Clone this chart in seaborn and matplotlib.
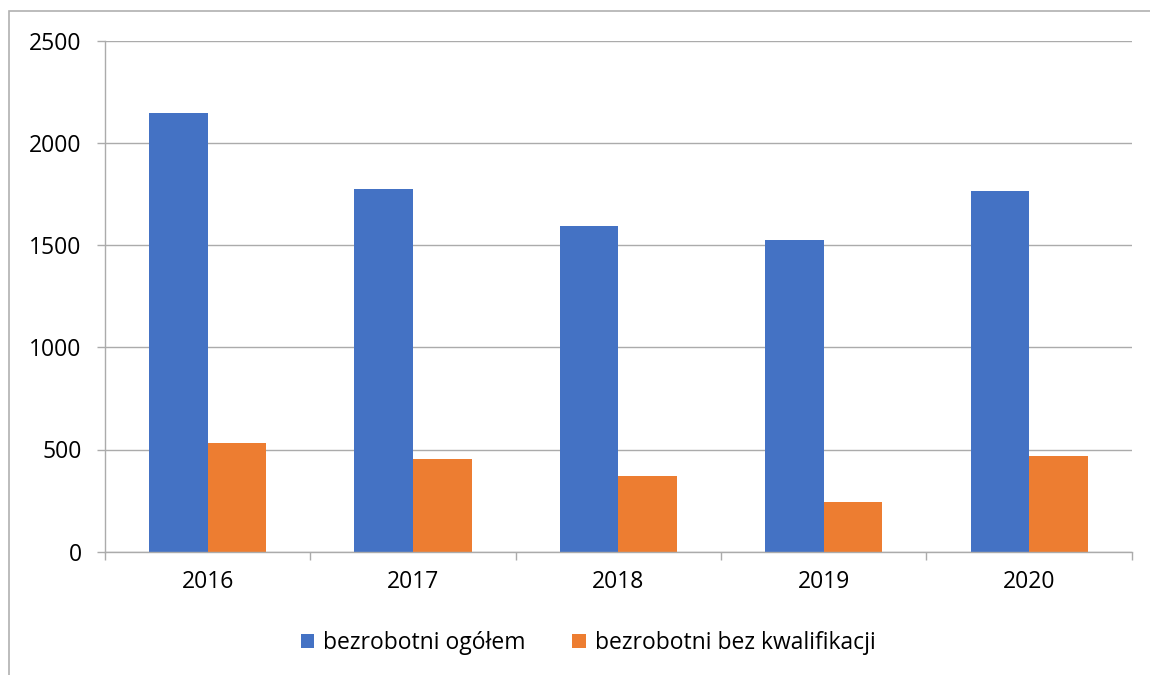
import matplotlib
matplotlib.use("Agg")
import matplotlib.pyplot as plt
import seaborn as sns
import pandas as pd
from matplotlib.patches import Patch, Rectangle

years = ["2016", "2017", "2018", "2019", "2020"]
ogolem = [2145, 1773, 1593, 1524, 1763]
bez_kwal = [530, 455, 370, 243, 468]
series_names = ["bezrobotni ogółem", "bezrobotni bez kwalifikacji"]
colors = ["#4472C4", "#ED7D31"]
yticks = [0, 500, 1000, 1500, 2000, 2500]

df = pd.DataFrame({
    "rok": years * 2,
    "wartosc": ogolem + bez_kwal,
    "seria": [series_names[0]] * len(years) + [series_names[1]] * len(years),
})

sns.set_theme(style="white")
plt.rcParams["font.family"] = ["Open Sans", "DejaVu Sans"]
plt.rcParams["text.color"] = "black"

W, H = 1150, 675
fig = plt.figure(figsize=(W / 100, H / 100), dpi=100)
ax = fig.add_axes([105 / W, 1 - 551.7 / H, (1131.7 - 105) / W, (551.7 - 40.7) / H])

sns.barplot(data=df, x="rok", y="wartosc", hue="seria", palette=colors,
            width=0.57, gap=0, ax=ax, legend=False, linewidth=0, saturation=1)

grid_c = "#ABABAB"
ax.set_ylim(0, 2500)
ax.set_xlim(-0.5, len(years) - 0.5)
ax.set_yticks(yticks)
ax.set_yticklabels([str(v) for v in yticks])
ax.yaxis.grid(True, color=grid_c, linewidth=1.0)
ax.set_axisbelow(True)
ax.set_xlabel("")
ax.set_ylabel("")

for s in ["top", "right"]:
    ax.spines[s].set_visible(False)
for s in ["left", "bottom"]:
    ax.spines[s].set_color(grid_c)
    ax.spines[s].set_linewidth(1.0)

fs = 16.5
ax.tick_params(axis="y", which="major", left=True, length=5.8, width=1.0,
               color=grid_c, pad=11, labelsize=fs, labelcolor="black")
ax.tick_params(axis="x", which="major", bottom=False, length=0, pad=13,
               labelsize=fs, labelcolor="black")
ax.set_xticks([i - 0.5 for i in range(len(years) + 1)], minor=True)
ax.tick_params(axis="x", which="minor", bottom=True, length=5.8, width=1.0,
               color=grid_c)

handles = [Patch(facecolor=c, edgecolor="none") for c in colors]
fig.legend(handles, series_names, loc="center", bbox_to_anchor=(588 / W, 1 - 643 / H),
           ncol=2, frameon=False, fontsize=fs, handlelength=0.6, handleheight=0.6,
           handletextpad=0.4, columnspacing=2.0, labelcolor="black")

# outer chart frame (partially visible, as in the reference)
fig.patches.append(Rectangle((9 / W, -0.05), 1.1, 1 - 11 / H + 0.05,
                             transform=fig.transFigure, fill=False,
                             edgecolor="#B0B0B0", linewidth=1.2))

fig.savefig("out.png", dpi=100, facecolor="white")
